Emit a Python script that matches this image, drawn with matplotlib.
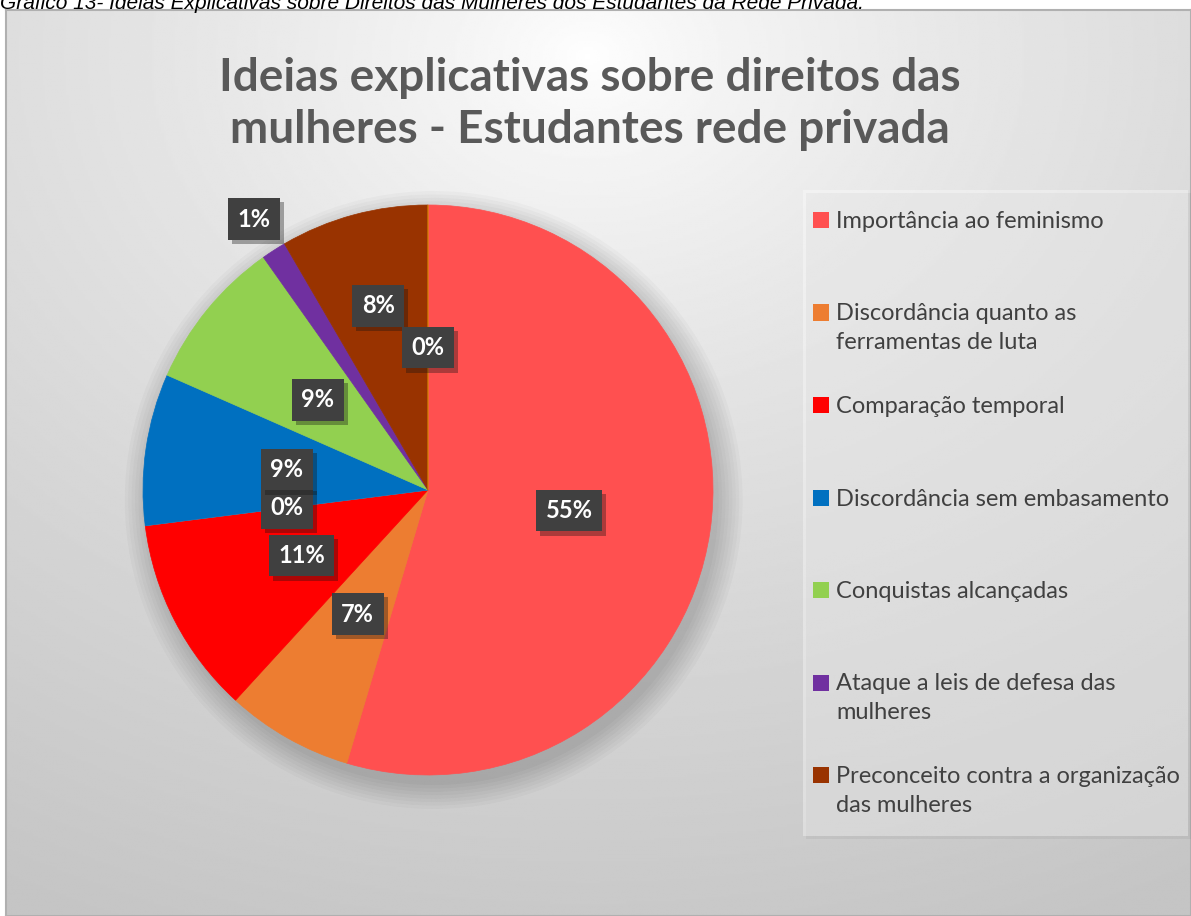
import numpy as np
import matplotlib
matplotlib.use("Agg")
from matplotlib import pyplot as plt
from matplotlib.patches import Rectangle, Circle
import matplotlib.patheffects as pe

# data (two zero-valued slices have no legend entry)
categories = ["Importância ao feminismo",
              "Discordância quanto as\nferramentas de luta",
              "Comparação temporal",
              "",
              "Discordância sem embasamento",
              "Conquistas alcançadas",
              "Ataque a leis de defesa das\nmulheres",
              "Preconceito contra a organização\ndas mulheres",
              ""]
values = [54.6, 7.2, 11.2, 0.0, 8.6, 8.6, 1.4, 8.4, 0.0]
colors = ["#FF5050", "#ED7D31", "#FF0000", "#A5A5A5", "#0070C0",
          "#92D050", "#7030A0", "#993300", "#FFC000"]
label_dist = [0.5, 0.5, 0.5, 0.5, 0.5, 0.5, 1.13, 0.67, 0.5]

title = "Ideias explicativas sobre direitos das\nmulheres - Estudantes rede privada"
caption = ("Gráfico 13- Ideias Explicativas sobre Direitos das Mulheres "
           "dos Estudantes da Rede Privada.")

W, H = 1191, 916
fig = plt.figure(figsize=(W / 100, H / 100), dpi=100)
fig.patch.set_facecolor("white")

def fx(px):
    return px / W

def fy(py):
    return 1 - py / H

# background chart area with radial gradient
bg = fig.add_axes([fx(6), 0, fx(W - 6), 1 - 10 / H])
gy, gx = np.mgrid[0:400, 0:500]
dist = np.sqrt(((gx - 245) / 520.0) ** 2 + ((gy - 20) / 420.0) ** 2)
shade = 1.0 - 0.23 * np.clip(dist, 0, 1) ** 0.75
bg.imshow(shade, cmap="gray", vmin=0, vmax=1, aspect="auto",
          extent=[0, 1, 0, 1], origin="upper", interpolation="bilinear")
bg.set_xticks([])
bg.set_yticks([])
for s in bg.spines.values():
    s.set_color("#B0B0B0")
    s.set_linewidth(1.5)

# caption above chart (clipped at the top, as in the source)
fig.text(0.0, fy(9), caption, fontsize=15, style="italic",
         family="Liberation Sans", color="black", va="baseline", ha="left")

# title
fig.text(fx(590), fy(104), title, fontsize=33, fontweight="bold",
         family="Lato", color="#595959", ha="center", va="center",
         linespacing=1.3)

# pie
cx, cy, r = 428, 490, 285
half = 300
ax = fig.add_axes([fx(cx - half), fy(cy + half), 2 * half / W, 2 * half / H])

# soft shadow under the pie
for k in range(8):
    ax.add_patch(Circle((0.02, -0.035), 1.0 + 0.012 * k, color="black",
                        alpha=0.022, lw=0, zorder=0, clip_on=False))

wedges, _ = ax.pie(values, colors=colors, startangle=90, counterclock=False,
                   radius=1.0, wedgeprops=dict(linewidth=0.5,
                                               antialiased=True))
for w, c in zip(wedges, colors):
    w.set_edgecolor(c)
    w.set_zorder(2)
ax.set_xlim(-half / r, half / r)
ax.set_ylim(-half / r, half / r)
ax.axis("off")

# data labels
for w, v, d in zip(wedges, values, label_dist):
    mid = np.deg2rad((w.theta1 + w.theta2) / 2)
    t = ax.text(d * np.cos(mid), d * np.sin(mid), "%.0f%%" % v,
                fontsize=17, fontweight="bold", family="Lato", color="white",
                ha="center", va="center", zorder=5,
                bbox=dict(boxstyle="square,pad=0.4", fc="#404040",
                          ec="none"))
    t.get_bbox_patch().set_path_effects(
        [pe.SimplePatchShadow(offset=(3, -3), alpha=0.35), pe.Normal()])

# legend box
box = Rectangle((fx(803), fy(836)), fx(1188) - fx(803), fy(190) - fy(836),
                transform=fig.transFigure, fc="white", alpha=0.35, ec="none",
                zorder=1)
box.set_path_effects([pe.SimplePatchShadow(offset=(2, -2), alpha=0.08),
                      pe.Normal()])
fig.patches.append(box)

row = 0
for name, c in zip(categories, colors):
    if not name:
        continue
    ty = 220 + 92.5 * row
    fig.patches.append(Rectangle((fx(813), fy(ty + 8)), 16 / W, 16 / H,
                                 transform=fig.transFigure, fc=c, ec="none",
                                 zorder=3))
    fig.text(fx(836), fy(ty - 9), name, fontsize=17, family="Lato",
             color="#404040", ha="left", va="top", linespacing=1.45,
             transform=fig.transFigure)
    row += 1

fig.savefig("out.png", dpi=100)
